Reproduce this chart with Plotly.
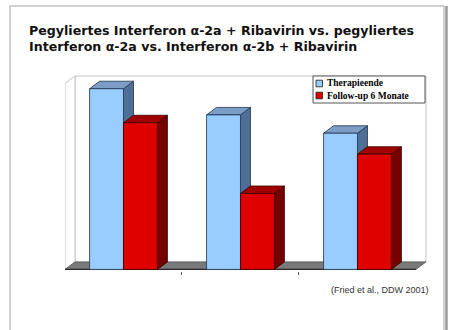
import plotly.graph_objects as go

# --- data -------------------------------------------------------------
groups = ["Peg-IFN α-2a + Ribavirin", "Peg-IFN α-2a", "IFN α-2b + Ribavirin"]
series_names = ["Therapieende", "Follow-up 6 Monate"]
therapieende = [69, 59, 52]
follow_up = [56, 29, 44]
title_lines = ["Pegyliertes Interferon α-2a + Ribavirin vs. pegyliertes",
               "Interferon α-2a vs. Interferon α-2b + Ribavirin"]
source_note = "(Fried et al., DDW 2001)"

# --- geometry / style --------------------------------------------------
W_PX, H_PX = 452, 330
L, T, W_PLOT, H_PLOT = 65, 73, 365, 198
X_RANGE = [-0.5, 2.62]
Y_RANGE = [-0.6, 75]
BAR_W = 0.29          # width of one bar in category units
DX, DY = 0.0855, 2.86  # 3D depth offset (x units, y units)
WALL_TOP = 71
FLOOR_X = [-0.5, 2.5]

styles = [
    dict(front="#99CCFF", top="#7C9DC6", side="#4F6F96", edge="#1E3350"),
    dict(front="#E00000", top="#A10000", side="#760000", edge="#3A0000"),
]


def px_x(p):
    return (p - L) / W_PLOT


def px_y(p):
    return 1 - (p - T) / H_PLOT


fig = go.Figure()


def poly(xs, ys, fill, line, width=0.8):
    fig.add_trace(go.Scatter(
        x=xs + [xs[0]], y=ys + [ys[0]], mode="lines", fill="toself",
        fillcolor=fill, line=dict(color=line, width=width),
        hoverinfo="skip", showlegend=False))


# walls
x0, x1 = FLOOR_X
poly([x0 + DX, x1 + DX, x1 + DX, x0 + DX], [DY, DY, WALL_TOP + DY, WALL_TOP + DY],
     "white", "#c4c4c4", 1)
poly([x0, x0 + DX, x0 + DX, x0], [0, DY, WALL_TOP + DY, WALL_TOP],
     "white", "#c4c4c4", 1)
# floor
poly([x0, x1, x1 + DX, x0 + DX], [0, 0, DY, DY], "#7a7a7a", "#555555", 0.8)
fig.add_trace(go.Scatter(x=[x0, x1], y=[0, 0], mode="lines",
                         line=dict(color="#2a2a2a", width=1.2),
                         hoverinfo="skip", showlegend=False))

# 3D bars, drawn back-to-front from left to right
for i in range(len(groups)):
    for s, vals in enumerate([therapieende, follow_up]):
        v = vals[i]
        st = styles[s]
        a = i - BAR_W + s * BAR_W
        b = a + BAR_W
        # side face
        poly([b, b + DX, b + DX, b], [0, DY, v + DY, v], st["side"], st["edge"])
        # top face
        poly([a, b, b + DX, a + DX], [v, v, v + DY, v + DY], st["top"], st["edge"])
        # front face
        poly([a, b, b, a], [0, 0, v, v], st["front"], st["edge"])

shapes = []
annotations = []

# outer frame
shapes.append(dict(type="rect", xref="paper", yref="paper",
                   x0=px_x(10), x1=px_x(444), y0=px_y(340), y1=px_y(6),
                   line=dict(color="#c2c2c2", width=1.5), layer="below"))
shapes.append(dict(type="line", xref="paper", yref="paper",
                   x0=px_x(446.5), x1=px_x(446.5), y0=px_y(340), y1=px_y(6),
                   line=dict(color="#9a9a9a", width=2.5)))

# legend box
shapes.append(dict(type="rect", xref="paper", yref="paper",
                   x0=px_x(313), x1=px_x(425), y0=px_y(103), y1=px_y(76),
                   line=dict(color="#555555", width=1), fillcolor="white"))
for k, name in enumerate(series_names):
    cy = 83.5 + 12 * k
    shapes.append(dict(type="rect", xref="paper", yref="paper",
                       x0=px_x(316), x1=px_x(322.5), y0=px_y(cy + 3.3), y1=px_y(cy - 3.3),
                       line=dict(color="#1a1a1a", width=0.8),
                       fillcolor=styles[k]["front"]))
    annotations.append(dict(xref="paper", yref="paper", x=px_x(325), y=px_y(cy),
                            xanchor="left", yanchor="middle", text=name,
                            showarrow=False,
                            font=dict(family="Liberation Serif", size=9.5,
                                      color="#000000", weight="bold")))

# title
annotations.append(dict(xref="paper", yref="paper", x=px_x(27), y=px_y(20.5),
                        xanchor="left", yanchor="top", align="left",
                        text="<br>".join(title_lines), showarrow=False,
                        font=dict(family="DejaVu Sans", size=12.6,
                                  color="#111111", weight="bold")))
# source
annotations.append(dict(xref="paper", yref="paper", x=px_x(431), y=px_y(290),
                        xanchor="right", yanchor="middle", text=source_note,
                        showarrow=False,
                        font=dict(family="Liberation Sans", size=9,
                                  color="#333333")))

fig.update_layout(
    width=W_PX, height=H_PX,
    margin=dict(l=L, r=W_PX - L - W_PLOT, t=T, b=H_PX - T - H_PLOT, pad=0),
    paper_bgcolor="white", plot_bgcolor="rgba(0,0,0,0)",
    showlegend=False,
    shapes=shapes, annotations=annotations,
    xaxis=dict(range=X_RANGE, showgrid=False, zeroline=False, showline=False,
               tickmode="array", tickvals=[0.5, 1.5], ticks="outside",
               ticklen=3, tickcolor="#555555", showticklabels=False,
               fixedrange=True),
    yaxis=dict(range=Y_RANGE, showgrid=False, zeroline=False, showline=False,
               showticklabels=False, ticks="", fixedrange=True),
)

fig.write_html("out.html")
